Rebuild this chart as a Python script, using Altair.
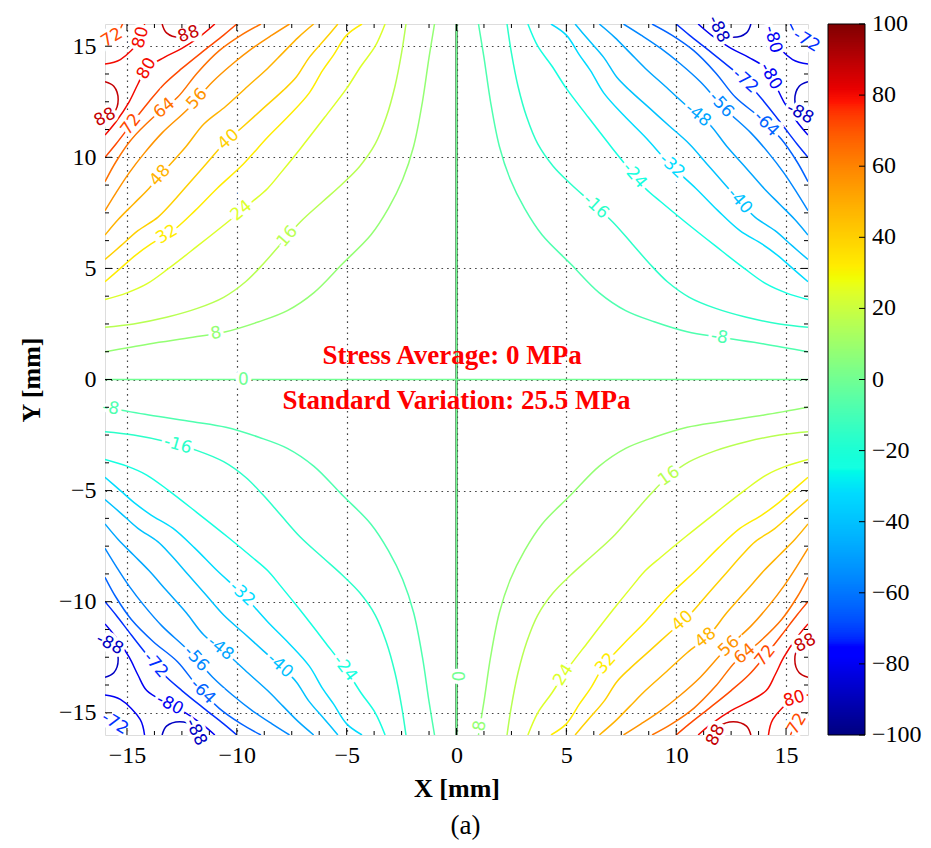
import math
import altair as alt
import numpy as np
import pandas as pd

# ---------------- data ----------------
# contour paths of one quadrant, as (|x|, |y|) in mm, from the top edge to the side edge
C8_U = [1.0, 1.25, 1.55, 1.95, 2.45, 3.1, 3.9, 5.2, 6.5, 7.7, 9.0, 10.5, 12.0, 14.0, 16.0]
C8_V = [16.0, 14.5, 12.5, 10.5, 9.0, 7.7, 6.5, 5.2, 3.9, 3.1, 2.6, 2.15, 1.9, 1.6, 1.25]
C16_U = [2.3, 2.5, 2.8, 3.2, 3.7, 4.4, 5.2, 6.1, 7.1, 8.0, 8.8, 9.6, 10.6, 11.8, 13.2, 14.7, 16.0]
C16_V = [16.0, 14.7, 13.2, 11.8, 10.6, 9.6, 8.8, 8.0, 7.1, 6.1, 5.2, 4.4, 3.7, 3.2, 2.8, 2.5, 2.35]
C24_U = [3.25, 3.7, 4.35, 5.0, 6.0, 7.1, 8.0, 8.6, 9.3, 10.4, 11.8, 13.1, 14.1, 15.0, 16.0]
C24_V = [16.0, 15.0, 14.1, 13.1, 11.8, 10.4, 9.3, 8.6, 8.0, 7.1, 6.0, 5.0, 4.3, 3.9, 3.6]
C32_U = [4.3, 5.0, 5.6, 6.1, 6.7, 7.6, 8.6, 9.7, 10.9, 11.9, 12.9, 13.9, 14.6, 15.3, 16.0]
C32_V = [16.0, 15.5, 14.6, 13.9, 12.9, 11.9, 10.9, 9.7, 8.6, 7.6, 6.7, 6.1, 5.6, 5.0, 4.4]
C40_U = [5.4, 6.0, 6.7, 7.3, 7.9, 8.8, 9.7, 10.6, 11.4, 12.2, 13.0, 13.6, 14.5, 15.3, 16.0]
C40_V = [16.0, 15.3, 14.5, 13.6, 13.0, 12.2, 11.4, 10.6, 9.7, 8.8, 7.9, 7.3, 6.7, 6.0, 5.4]
C48_U = [6.5, 7.2, 7.9, 8.6, 9.5, 10.5, 11.5, 12.3, 13.2, 14.0, 14.7, 15.4, 16.0]
C48_V = [16.0, 15.4, 14.7, 14.0, 13.2, 12.3, 11.5, 10.5, 9.5, 8.6, 7.9, 7.2, 6.5]
C56_U = [7.6, 8.4, 9.3, 10.2, 11.1, 12.2, 13.4, 14.2, 14.9, 15.5, 16.0]
C56_V = [16.0, 15.5, 14.9, 14.2, 13.4, 12.2, 11.1, 10.2, 9.3, 8.4, 7.6]
C64_U = [8.9, 9.8, 10.8, 11.8, 12.7, 13.8, 14.8, 15.5, 16.0]
C64_V = [16.0, 15.5, 14.8, 13.8, 12.7, 11.8, 10.8, 9.8, 8.9]
C72_U = [10.0, 10.6, 11.5, 12.5, 13.3, 14.0, 14.8, 15.5, 16.0]
C72_V = [16.0, 15.5, 14.8, 14.0, 13.3, 12.5, 11.5, 10.6, 10.0]
C80_U = [11.0, 11.6, 12.5, 13.3, 14.1, 14.5, 14.9, 15.5, 16.0]
C80_V = [16.0, 15.5, 14.9, 14.5, 14.0, 13.3, 12.5, 11.6, 11.0]
C80B_U = [14.2, 14.4, 15.3, 16.0]
C80B_V = [16.0, 15.3, 14.4, 14.2]
C72B_U = [15.2, 15.5, 16.0]
C72B_V = [16.0, 15.5, 15.2]
C88A_U = [11.8, 12.0, 12.6, 13.2, 13.4]
C88A_V = [16.0, 15.6, 15.4, 15.6, 16.0]
C88B_U = [16.0, 15.6, 15.4, 15.6, 16.0]
C88B_V = [11.8, 12.0, 12.6, 13.2, 13.4]

PATHS = [
    ("c8", 8, C8_U, C8_V), ("c16", 16, C16_U, C16_V), ("c24", 24, C24_U, C24_V),
    ("c32", 32, C32_U, C32_V), ("c40", 40, C40_U, C40_V), ("c48", 48, C48_U, C48_V),
    ("c56", 56, C56_U, C56_V), ("c64", 64, C64_U, C64_V), ("c72", 72, C72_U, C72_V),
    ("c80", 80, C80_U, C80_V), ("c80b", 80, C80B_U, C80B_V), ("c72b", 72, C72B_U, C72B_V),
    ("c88a", 88, C88A_U, C88A_V), ("c88b", 88, C88B_U, C88B_V),
]

# zero contours (the two axes)
ZERO_H_X = [-16.0, 16.0]
ZERO_H_Y = [0.0, 0.0]
ZERO_V_X = [0.0, 0.0]
ZERO_V_Y = [-16.0, 16.0]

# inline contour labels: signed level, x, y (mm)
LABEL_LEVEL = [8, 16, 24, 32, 40, 48, 56, 64, 72, 80, 72, 80, 88, 88,
               -8, -16, -24, -32, -40, -48, -56, -64, -72, -80, -80, -72, -88, -88,
               -8, -16, -24, -32, -40, -48, -56, -64, -72, -80, -72, -88, -88,
               8, 16, 24, 32, 40, 48, 56, 64, 72, 80, 72, 88, 88,
               0, 0]
LABEL_X = [-10.97, -7.94, -9.76, -13.25, -10.52, -13.7, -11.8, -13.32, -14.91, -14.08, -15.3, -13.93, -12.26, -15.82,
           11.98, 6.54, 8.05, 9.8, 13.2, 10.9, 11.98, 14.1, 13.2, 14.4, 13.95, 15.3, 12.0, 15.6,
           -15.75, -12.87, -5.14, -9.84, -8.32, -10.9, -11.88, -11.5, -13.93, -13.17, -15.14, -11.8, -15.75,
           1.24, 10.1, 4.95, 6.92, 10.4, 11.4, 12.4, 13.2, 14.27, 15.25, 14.57, 11.3, 15.86,
           -9.7, 0.0]
LABEL_Y = [2.19, 6.65, 7.56, 6.65, 10.96, 9.37, 12.62, 12.24, 11.56, 13.98, 14.74, 15.27, 15.72, 11.41,
           1.98, 8.0, 9.14, 9.6, 8.3, 11.8, 12.3, 11.5, 13.5, 13.7, 15.1, 14.2, 15.8, 11.9,
           -1.34, -3.6, -13.05, -9.73, -13.2, -12.3, -12.6, -14.0, -13.05, -14.87, -14.8, -15.85, -11.84,
           -15.62, -4.96, -13.35, -12.9, -11.0, -11.7, -12.0, -12.45, -12.6, -13.96, -14.9, -15.9, -11.84,
           0.0, -13.35]

TICK_LABELS = [-15, -10, -5, 0, 5, 10, 15]
COLORBAR_LABELS = [-100, -80, -60, -40, -20, 0, 20, 40, 60, 80, 100]
COLORBAR_RANGE = [-100, 100]
NOTE_TEXT = ["Stress Average: 0 MPa", "Standard Variation: 25.5 MPa"]
NOTE_X = [-0.2, 0.0]
NOTE_Y = [1.05, -0.95]

# ---------------- layout ----------------
W, H = 703, 711
PX_X, PX_Y = W / 32.0, H / 32.0
CB_OFF, CB_W = 20, 37
CB_TO_Y = 16.0 / 100.0   # colour-bar value -> position on the plot's vertical extent

# jet colour map (matplotlib segment data)
JR = [(0, 0), (0.35, 0), (0.66, 1), (0.89, 1), (1, 0.5)]
JG = [(0, 0), (0.125, 0), (0.375, 1), (0.64, 1), (0.91, 0), (1, 0)]
JB = [(0, 0.5), (0.11, 1), (0.34, 1), (0.65, 0), (1, 0)]
stops = sorted(set([p[0] for p in JR + JG + JB]))


def chan(seg, t):
    return float(np.interp(t, [p[0] for p in seg], [p[1] for p in seg]))


jet_dom = [-100 + 200 * t for t in stops]
jet_rng = ["#%02x%02x%02x" % tuple(int(round(255 * chan(s, t))) for s in (JR, JG, JB)) for t in stops]


def jet_scale():
    return alt.Scale(type="linear", domain=jet_dom, range=jet_rng, clamp=True)


# ---------------- tables ----------------
QUADS = [(-1, 1), (1, 1), (-1, -1), (1, -1)]
rows = []
for name, lev, us, vs in PATHS:
    for sx, sy in QUADS:
        val = -sx * sy * lev
        pid = f"{name}_{sx}_{sy}"
        for i, (u, v) in enumerate(zip(us, vs)):
            rows.append(dict(pid=pid, seq=i, x=sx * u, y=sy * v, value=val))
for pid, xs_, ys_ in [("zh", ZERO_H_X, ZERO_H_Y), ("zv", ZERO_V_X, ZERO_V_Y)]:
    for i, (a, b) in enumerate(zip(xs_, ys_)):
        rows.append(dict(pid=pid, seq=i, x=a, y=b, value=0))
lines = pd.DataFrame(rows)

groups = {pid: g.sort_values("seq") for pid, g in lines.groupby("pid")}


def snap(lx, ly, val):
    best = None
    for pid, g in groups.items():
        if g["value"].iloc[0] != val:
            continue
        xs_, ys_ = g["x"].values, g["y"].values
        for i in range(len(xs_) - 1):
            ax, ay, bx, by = xs_[i], ys_[i], xs_[i + 1], ys_[i + 1]
            dx, dy = bx - ax, by - ay
            L2 = dx * dx + dy * dy
            t = 0.0 if L2 == 0 else max(0.0, min(1.0, ((lx - ax) * dx + (ly - ay) * dy) / L2))
            qx, qy = ax + t * dx, ay + t * dy
            d = ((qx - lx) * PX_X) ** 2 + ((qy - ly) * PX_Y) ** 2
            if best is None or d < best[0]:
                best = (d, qx, qy, dx, dy)
    _, qx, qy, dx, dy = best
    ang = math.degrees(math.atan2(-dy * PX_Y, dx * PX_X))
    if ang > 90:
        ang -= 180
    if ang <= -90:
        ang += 180
    return qx, qy, ang % 360


lab_rows = []
for lev, lx, ly in zip(LABEL_LEVEL, LABEL_X, LABEL_Y):
    qx, qy, ang = snap(lx, ly, lev)
    lab_rows.append(dict(x=qx, y=qy, angle=ang, value=lev, text=str(lev)))
labels = pd.DataFrame(lab_rows)

notes = pd.DataFrame(dict(text=NOTE_TEXT, x=NOTE_X, y=NOTE_Y))
minor = [float(v) for v in np.arange(-15, 15.01, 1.25) if abs(v / 5 - round(v / 5)) > 1e-6]
tick_major_x = pd.DataFrame(dict(x=TICK_LABELS))
tick_minor_x = pd.DataFrame(dict(x=minor))
tick_major_y = pd.DataFrame(dict(y=TICK_LABELS))
tick_minor_y = pd.DataFrame(dict(y=minor))

# colour bar: overlapping thin bands over the colour range, labels and tick marks
cb_step = 0.5
cb_v = np.arange(COLORBAR_RANGE[0], COLORBAR_RANGE[1], cb_step)
cb_top = np.minimum(cb_v + 2.5 * cb_step, COLORBAR_RANGE[1])
cb_bands = pd.DataFrame(dict(y=cb_v * CB_TO_Y, y2=cb_top * CB_TO_Y, value=cb_v + cb_step / 2))
cb_frame = pd.DataFrame(dict(y=[COLORBAR_RANGE[0] * CB_TO_Y], y2=[COLORBAR_RANGE[1] * CB_TO_Y]))
cb_labels = pd.DataFrame(dict(y=[v * CB_TO_Y for v in COLORBAR_LABELS],
                              text=[str(v).replace("-", "\u2212") for v in COLORBAR_LABELS]))

# ---------------- encodings ----------------
SERIF = "Liberation Serif"
xs = alt.Scale(domain=[-16, 16], nice=False, zero=False)
ys = alt.Scale(domain=[-16, 16], nice=False, zero=False)
xaxis = alt.Axis(values=TICK_LABELS, title="X [mm]", grid=True, gridDash=[1.6, 4], gridColor="#444444",
                 gridWidth=1.2, ticks=False, domain=False, labelFont=SERIF, labelFontSize=24,
                 labelColor="black", labelPadding=8, titleFont=SERIF, titleFontSize=26,
                 titleFontWeight="bold", titleColor="black", titlePadding=8, format="d")
yaxis = alt.Axis(values=TICK_LABELS, title="Y [mm]", grid=True, gridDash=[1.6, 4], gridColor="#444444",
                 gridWidth=1.2, ticks=False, domain=False, labelFont=SERIF, labelFontSize=24,
                 labelColor="black", labelPadding=9, titleFont=SERIF, titleFontSize=26,
                 titleFontWeight="bold", titleColor="black", titlePadding=14, format="d")
X = alt.X("x:Q", scale=xs, axis=xaxis)
Y = alt.Y("y:Q", scale=ys, axis=yaxis)
COLOR = alt.Color("value:Q", scale=jet_scale(), legend=None)

zero_under = alt.Chart(lines[lines.pid == "zv"]).mark_line(color="#1e3a1e", strokeWidth=2.2).encode(
    x=X, y=Y, detail="pid:N", order="seq:Q")
contours = alt.Chart(lines).mark_line(strokeWidth=1.5, clip=True, interpolate="catmull-rom").encode(
    x=X, y=Y, color=COLOR, detail="pid:N", order="seq:Q")
halo = alt.Chart(labels).mark_text(font="DejaVu Sans", fontSize=17, fill="white", stroke="white",
                                   strokeWidth=7, baseline="middle", align="center").encode(
    x=X, y=Y, text="text:N", angle=alt.Angle("angle:Q", scale=None))
ltext = alt.Chart(labels).mark_text(font="DejaVu Sans", fontSize=17, baseline="middle",
                                    align="center").encode(
    x=X, y=Y, text="text:N", angle=alt.Angle("angle:Q", scale=None), color=COLOR)
note = alt.Chart(notes).mark_text(font=SERIF, fontSize=27, fontWeight="bold", color="#ff0000",
                                  baseline="middle", align="center").encode(x=X, y=Y, text="text:N")

CBX0, CBX1 = W + CB_OFF, W + CB_OFF + CB_W
cb_rect = alt.Chart(cb_bands).mark_rect(strokeWidth=0).encode(
    y=Y, y2="y2:Q", x=alt.value(CBX0), x2=alt.value(CBX1), color=COLOR, order="value:Q")
cb_box = alt.Chart(cb_frame).mark_rect(fillOpacity=0, stroke="black", strokeWidth=1).encode(
    y=Y, y2="y2:Q", x=alt.value(CBX0), x2=alt.value(CBX1))
cb_tk = alt.Chart(cb_labels).mark_rule(color="black", strokeWidth=1).encode(
    y=Y, x=alt.value(CBX1 - 6), x2=alt.value(CBX1))
cb_txt = alt.Chart(cb_labels).mark_text(font=SERIF, fontSize=24, color="black", align="left",
                                        baseline="middle", dx=7).encode(
    y=Y, x=alt.value(CBX1), text="text:N")


def xticks(df, length):
    b = alt.Chart(df).mark_rule(color="black", strokeWidth=1).encode(
        x=X, y=alt.value(H), y2=alt.value(H - length))
    t = alt.Chart(df).mark_rule(color="black", strokeWidth=1).encode(
        x=X, y=alt.value(0), y2=alt.value(length))
    return [b, t]


def yticks(df, length):
    l_ = alt.Chart(df).mark_rule(color="black", strokeWidth=1).encode(
        y=Y, x=alt.value(0), x2=alt.value(length))
    r_ = alt.Chart(df).mark_rule(color="black", strokeWidth=1).encode(
        y=Y, x=alt.value(W), x2=alt.value(W - length))
    return [l_, r_]


tick_layers = xticks(tick_major_x, 7) + xticks(tick_minor_x, 4) + yticks(tick_major_y, 7) + yticks(tick_minor_y, 4)

chart = alt.layer(zero_under, contours, halo, ltext, note, cb_rect, cb_box, cb_tk, cb_txt,
                  *tick_layers).properties(
    width=W, height=H,
    padding={"left": 105, "top": 24, "right": 123, "bottom": 113},
    autosize=alt.AutoSizeParams(type="none"),
    title=alt.TitleParams(text="(a)", orient="bottom", anchor="middle", font=SERIF, fontSize=27,
                          fontWeight="normal", color="black", offset=12, dx=9),
).configure_view(stroke="black", strokeWidth=1.5).configure(background="white")

chart.save("out.html", embed_options={"renderer": "svg", "actions": False})
